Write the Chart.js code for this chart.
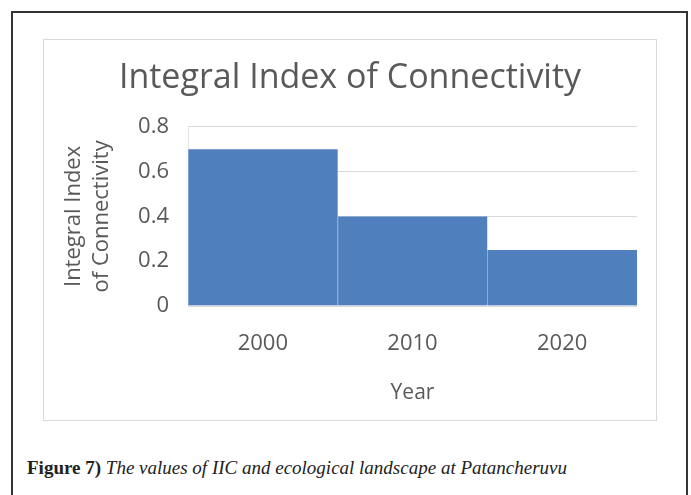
<!DOCTYPE html>
<html>
<head>
<meta charset="utf-8">
<script src="https://cdn.jsdelivr.net/npm/chart.js@4.4.1/dist/chart.umd.min.js"></script>
<style>
  html, body { margin: 0; padding: 0; background: #fff; }
  body { width: 691px; height: 495px; overflow: hidden; position: relative; }
  #outer { position: absolute; left: 11px; top: 11px; width: 677px; height: 520px; border: 2px solid #333; box-sizing: border-box; }
  #inner { position: absolute; left: 43px; top: 39px; width: 614px; height: 382px; border: 1px solid #d9d9d9; box-sizing: border-box; }
  #chart { position: absolute; left: 44px; top: 40px; }
  #caption { position: absolute; left: 27px; top: 457px; font-family: "Liberation Serif", "DejaVu Serif", serif; font-size: 19px; color: #222; white-space: nowrap; }
  #caption b { font-weight: bold; font-style: normal; }
  #caption i { font-style: italic; }
</style>
</head>
<body>
<div id="outer"></div>
<div id="inner"></div>
<canvas id="chart" width="612" height="380"></canvas>
<div id="caption"><b>Figure 7)</b> <i>The values of IIC and ecological landscape at Patancheruvu</i></div>
<script>
const categories = ["2000", "2010", "2020"];
const iicValues = [0.7, 0.4, 0.25];
const chartTitle = "Integral Index of Connectivity";
const yAxisTitle = ["Integral Index", "of Connectivity"];
const xAxisTitle = "Year";
const yMin = 0, yMax = 0.8, yStep = 0.2;

const textColor = "#595959";
const fontFamily = "'Open Sans', sans-serif";

const bgPlugin = {
  id: "bg",
  beforeDraw(chart) {
    const ctx = chart.ctx;
    ctx.save();
    ctx.fillStyle = "#fff";
    ctx.fillRect(0, 0, chart.width, chart.height);
    ctx.restore();
  }
};

new Chart(document.getElementById("chart"), {
  type: "bar",
  data: {
    labels: categories,
    datasets: [{
      label: "IIC",
      data: iicValues,
      backgroundColor: "#4f80bd",
      borderColor: "#8fadd8",
      borderWidth: { left: 1, right: 0, top: 0, bottom: 0 },
      barPercentage: 1.0,
      categoryPercentage: 1.0
    }]
  },
  options: {
    responsive: false,
    animation: false,
    layout: { padding: 0 },
    plugins: {
      legend: { display: false },
      tooltip: { enabled: false },
      title: {
        display: true,
        text: chartTitle,
        color: textColor,
        font: { family: fontFamily, size: 34, weight: "normal", lineHeight: 1.2 },
        padding: { top: 18, bottom: 28 }
      }
    },
    scales: {
      x: {
        grid: { display: false, drawTicks: false },
        border: { display: false },
        ticks: {
          color: textColor,
          font: { family: fontFamily, size: 22 },
          padding: 25
        },
        title: {
          display: true,
          text: xAxisTitle,
          color: textColor,
          font: { family: fontFamily, size: 21, lineHeight: 1.2 },
          padding: { top: 0, bottom: 14 }
        },
        afterFit(scale) { scale.height = 114; }
      },
      y: {
        min: yMin,
        max: yMax,
        grid: { color: "#d9d9d9", drawTicks: false, lineWidth: 1 },
        border: { display: true, color: "#e3e3e3" },
        ticks: {
          stepSize: yStep,
          color: textColor,
          font: { family: fontFamily, size: 22 },
          padding: 19,
          callback: (v) => (v === 0 ? "0" : v.toFixed(1))
        },
        title: {
          display: true,
          text: yAxisTitle,
          color: textColor,
          font: { family: fontFamily, size: 22, lineHeight: 1.25 },
          padding: { top: 16, bottom: 0 }
        },
        afterFit(scale) { scale.width = 144; }
      },
      yRight: {
        position: "right",
        min: yMin,
        max: yMax,
        grid: { display: false, drawTicks: false },
        border: { display: false },
        ticks: { display: false },
        afterFit(scale) { scale.width = 19; }
      }
    }
  },
  plugins: [bgPlugin]
});
</script>
</body>
</html>
